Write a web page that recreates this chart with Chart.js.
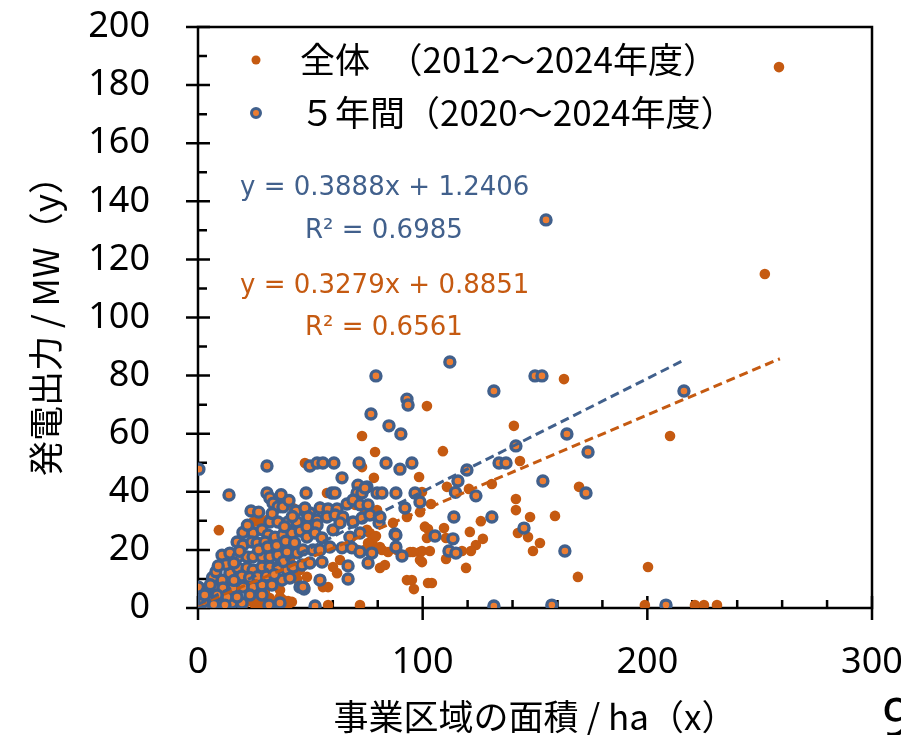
<!DOCTYPE html>
<html lang="ja">
<head>
  <meta charset="UTF-8" />
  <title>事業区域の面積と発電出力</title>
  <script src="https://cdn.jsdelivr.net/npm/chart.js"></script>
  <style>
    body { margin: 0; background: #fff; }
    #wrap { width: 901px; height: 735px; }
  </style>
</head>
<body>
  <div id="wrap"><canvas id="scatterChart" width="901" height="735"></canvas></div>

  <script>
    // 5年間（2020～2024年度）: [面積 ha, 出力 MW]
    const recentPoints = [
      [154.9,133.6],[112.1,84.7],[131.7,74.7],[150.0,79.9],[153.1,79.9],[79.2,79.9],[93.0,71.9],[93.5,69.9],
      [77.0,66.8],[85.0,62.7],[90.3,59.9],[164.2,59.9],[141.5,55.8],[173.6,53.7],[216.3,74.7],
      [0.4,47.8],[30.7,48.9],[49.8,48.9],[53.0,49.9],[55.6,49.9],[60.5,49.9],[71.7,49.9],[83.7,49.9],[95.2,49.9],
      [89.9,47.8],[64.1,44.8],[71.2,42.3],[75.2,41.7],[134.0,49.9],[137.1,49.9],[119.7,47.5],[115.7,43.7],
      [153.5,43.7],[172.7,39.6],[114.6,39.8],[123.7,38.6],[96.6,39.6],[98.8,36.5],[92.1,34.4],[113.9,31.3],
      [130.8,31.3],[145.1,27.5],[105.5,24.8],[113.5,23.8],[111.7,19.6],[114.8,18.9],[163.3,19.6],[90.8,17.9],
      [77.4,18.9],[66.8,14.5],[66.8,10.0],[54.3,9.6],[47.2,6.5],[52.1,0.7],[31.6,1.0],[0.2,7.2],[131.7,0.7],
      [157.5,1.0],[208.3,1.0],[80.6,29.3],[87.7,25.5],
      [13.8,38.9],[30.7,39.6],[32.0,37.9],[33.4,36.1],[35.6,34.8],[37.8,34.8],[48.1,39.6],[23.6,33.4],[43.6,33.4],
      [48.5,32.7],[32.0,29.6],[35.6,29.6],[40.1,29.6],[44.1,29.6],
      [24.5,25.8],[28.5,26.9],[31.2,25.1],[34.3,24.4],[37.8,25.1],[41.8,25.8],
      [17.4,22.7],[20.0,21.7],[24.0,22.7],[26.3,22.4],[29.8,22.7],
      [10.7,18.2],[14.2,18.9],[17.8,17.6],[21.8,17.6],[24.5,17.6],[28.5,17.6],[32.0,17.6],[35.6,18.2],[39.6,19.3],[44.1,18.9],
      [10.7,9.6],[14.2,12.0],[17.8,13.8],[21.8,13.8],[24.5,13.1],[28.5,14.1],[32.0,14.1],[35.6,14.1],[39.6,13.1],[42.3,14.1],[46.3,14.8],
      [4.0,5.5],[7.6,6.9],[11.1,6.9],[15.6,6.9],[20.0,7.2],[24.5,7.2],[28.5,7.9],[32.9,7.9],[37.4,9.6],[40.9,10.3],[45.4,7.2],
      [0.9,1.7],[4.5,1.0],[9.8,1.7],[15.1,1.7],[19.6,1.7],[36.5,1.7],[12.9,3.8],[17.4,3.8],[23.1,4.5],[28.5,4.5],
      [2.0,3.0],[6.0,3.5],[8.5,4.5],[3.0,1.0],[7.0,1.2],[12.0,1.0],[2.5,2.2],
      [6.5,10.5],[8.0,12.5],[12.5,15.0],[16.0,15.5],[19.5,11.0],[23.0,10.5],[26.5,10.8],[30.5,11.0],[34.0,11.5],
      [38.0,16.0],[27.0,20.0],[31.0,21.0],[35.0,21.5],[39.0,23.0],[43.0,22.5],[20.0,26.0],[22.0,28.5],[38.5,28.0],
      [42.0,31.5],[45.5,26.5],[16.0,9.5],[9.0,14.5],[5.5,8.0],[3.0,4.5],[18.5,19.5],[33.0,32.5],[27.0,33.0],
      [37.0,39.0],[40.5,37.0],
      [59.6,39.6],[61.0,39.6],[79.7,39.6],[81.9,39.6],[88.1,39.6],[70.8,39.6],[73.0,39.6],[74.3,41.3],
      [54.3,34.4],[49.8,32.7],[47.6,34.4],[57.9,34.1],[61.9,34.1],[66.3,35.8],[69.0,37.2],[72.1,35.5],[75.7,35.5],
      [49.0,31.3],[53.0,30.3],[57.4,31.3],[61.0,32.0],[64.5,31.3],[69.0,29.6],[73.0,31.0],[76.5,32.0],[81.0,31.3],
      [48.5,27.9],[53.0,28.6],[48.5,24.4],[52.1,25.8],[55.2,24.1],[60.1,26.9],[63.2,29.3],[67.6,24.4],[72.1,25.8],[88.1,25.1],
      [46.7,20.0],[51.2,20.0],[54.3,20.0],[58.7,21.0],[64.1,20.7],[68.5,20.7],[72.1,19.3],[75.7,15.5],[88.1,21.0],
      [49.8,15.5],[55.2,15.8],[46.7,7.2]
    ];

    // 2012～2019年度分（全体から5年間を除いた点）
    const olderPoints = [
      [258.6,186.2],[252.3,115.0],[162.9,78.8],[101.9,69.5],[140.6,62.7],[210.1,59.2],[73.0,59.2],[78.8,53.7],
      [109.0,54.0],[143.3,50.6],[47.6,49.9],[73.0,48.5],[98.4,45.1],[78.3,44.8],[110.8,41.7],[130.8,42.7],
      [169.6,41.7],[120.6,41.0],[57.4,39.6],[99.7,39.9],[141.5,37.5],[141.5,33.7],[103.7,35.8],[98.8,33.0],
      [93.0,31.3],[147.8,31.3],[158.9,31.7],[125.9,29.9],[109.5,27.5],[102.4,27.2],[121.0,26.2],[142.4,25.8],
      [146.9,24.4],[110.4,24.1],[126.8,23.8],[123.7,21.7],[152.2,22.4],[117.5,19.6],[121.5,19.6],[103.2,19.6],
      [99.7,19.6],[149.1,19.6],[110.4,16.9],[99.7,15.8],[119.3,13.8],[200.3,14.1],[169.1,10.7],[93.0,9.6],
      [95.2,9.6],[102.4,8.6],[104.1,8.6],[96.1,6.5],[198.9,1.0],[221.2,1.0],[225.2,1.0],[231.0,1.0],[72.1,1.0],
      [57.9,1.0],[9.3,26.8],
      [86.8,29.3],[101.0,28.0],[101.9,24.1],[76.5,25.8],[79.2,24.8],[77.4,22.4],[78.8,21.0],[81.9,20.0],[84.6,19.3],
      [88.6,20.0],[94.4,19.3],[98.8,19.3],[95.7,19.3],[98.8,16.5],[81.0,13.8],[83.2,14.8],[61.9,12.0],[63.2,16.5],
      [60.1,14.1],[45.4,13.1],[48.5,10.7],[57.9,7.2],[55.6,7.2],
      [24.5,29.6],[26.3,29.9],[28.5,29.6],[30.7,30.3],[45.4,33.7],[42.3,34.4],[54.3,34.8],[69.9,35.5],[74.3,33.7],
      [79.7,33.7],[75.2,26.9],[78.8,24.4],[75.7,22.4],[81.0,21.0],[74.3,20.0],[70.8,20.0],[40.9,16.5],[42.3,13.1],
      [36.5,6.2],[36.5,3.8],[28.5,3.8],[24.5,2.8],[18.7,1.7],[15.6,5.2],[12.9,7.2],[37.8,2.8],[39.6,0.3],[23.1,2.4],
      [25.4,1.0],[27.6,3.1],[29.8,1.7],[32.0,3.4],[34.3,1.4],[38.7,1.0],[40.1,2.4],[20.9,1.7],[26.3,0.7],[30.7,0.7],
      [34.7,0.7],[41.8,2.1],[29.8,5.2],[44.1,10.0],[47.6,7.2]
    ];

    // 近似直線（端点を図から読み取り）
    const trendRecentX = [0, 217];
    const trendRecentY = [1.2, 85.6];
    const trendAllX = [0, 259];
    const trendAllY = [0.9, 85.8];

    const legendLabels = ['全体　（2012～2024年度）', '５年間（2020～2024年度）'];
    const eqRecent = ['y = 0.3888x + 1.2406', 'R² = 0.6985'];
    const eqAll = ['y = 0.3279x + 0.8851', 'R² = 0.6561'];

    const xTitle = '事業区域の面積 / ha（x）';
    const yTitle = '発電出力 / MW（y）';

    const ORANGE = '#C55A11';
    const ORANGE_FILL = '#ED7D31';
    const BLUE = '#41608C';
    const JP = '"Noto Sans CJK JP", "Noto Sans", sans-serif';

    const toXY = arr => arr.map(p => ({ x: p[0], y: p[1] }));
    const lineXY = (xs, ys) => xs.map((v, i) => ({ x: v, y: ys[i] }));

    // 枠線と目盛り（主・副）
    const frameTicks = {
      id: 'frameTicks',
      beforeDatasetsDraw(chart) {
        const { ctx, chartArea: a, scales: { x, y } } = chart;
        ctx.save();
        ctx.strokeStyle = '#000';
        ctx.lineWidth = 2.5;
        ctx.strokeRect(a.left, a.top, a.right - a.left, a.bottom - a.top);
        ctx.beginPath();
        for (let v = 0; v <= 200; v += 10) {
          const py = y.getPixelForValue(v);
          if (v % 20 === 0) { ctx.moveTo(a.left - 12, py); ctx.lineTo(a.left + 12, py); }
          else { ctx.moveTo(a.left, py); ctx.lineTo(a.left + 9, py); }
        }
        for (let v = 0; v <= 300; v += 20) {
          const px = x.getPixelForValue(v);
          if (v % 100 === 0) { ctx.moveTo(px, a.bottom - 12); ctx.lineTo(px, a.bottom + 12); }
          else { ctx.moveTo(px, a.bottom - 8); ctx.lineTo(px, a.bottom); }
        }
        ctx.stroke();
        ctx.restore();
      },
      afterDraw(chart) {
        const { ctx } = chart;
        ctx.save();
        // 凡例
        ctx.beginPath();
        ctx.fillStyle = ORANGE;
        ctx.arc(256, 60, 4.5, 0, Math.PI * 2);
        ctx.fill();
        ctx.beginPath();
        ctx.arc(256, 113, 4.5, 0, Math.PI * 2);
        ctx.fillStyle = ORANGE_FILL;
        ctx.fill();
        ctx.lineWidth = 3;
        ctx.strokeStyle = BLUE;
        ctx.stroke();

        ctx.fillStyle = '#000';
        ctx.textBaseline = 'middle';
        ctx.font = '35px ' + JP;
        ctx.fillText(legendLabels[0], 300, 60);
        ctx.fillText(legendLabels[1], 300, 113);

        // 近似式
        ctx.font = '26px "DejaVu Sans", sans-serif';
        ctx.fillStyle = BLUE;
        ctx.fillText(eqRecent[0], 240, 188);
        ctx.fillText(eqRecent[1], 305, 231);
        ctx.fillStyle = ORANGE;
        ctx.fillText(eqAll[0], 240, 286);
        ctx.fillText(eqAll[1], 305, 328);

        // ページ番号
        ctx.fillStyle = '#000';
        ctx.textBaseline = 'alphabetic';
        ctx.font = '52px "Noto Sans", sans-serif';
        ctx.fillText('9', 882, 736);
        ctx.restore();
      }
    };

    const ctx = document.getElementById('scatterChart').getContext('2d');
    new Chart(ctx, {
      type: 'scatter',
      data: {
        datasets: [
          {
            type: 'line',
            label: '近似（5年間）',
            data: lineXY(trendRecentX, trendRecentY),
            borderColor: BLUE,
            borderWidth: 3,
            borderDash: [9, 5],
            pointRadius: 0,
            fill: false,
            order: -2
          },
          {
            type: 'line',
            label: '近似（全体）',
            data: lineXY(trendAllX, trendAllY),
            borderColor: ORANGE,
            borderWidth: 3,
            borderDash: [9, 5],
            pointRadius: 0,
            fill: false,
            order: -1
          },
          {
            label: legendLabels[1],
            data: toXY(recentPoints),
            pointRadius: 5,
            pointBackgroundColor: ORANGE_FILL,
            pointBorderColor: BLUE,
            pointBorderWidth: 3.4,
            order: 0
          },
          {
            label: legendLabels[0],
            data: toXY(olderPoints.concat(recentPoints)),
            pointRadius: 5.3,
            pointBackgroundColor: ORANGE,
            pointBorderWidth: 0,
            order: 1
          }
        ]
      },
      options: {
        responsive: false,
        animation: false,
        layout: { padding: { top: 27, right: 29, left: 0, bottom: 0 } },
        plugins: {
          legend: { display: false },
          tooltip: { enabled: false }
        },
        scales: {
          x: {
            type: 'linear',
            min: 0,
            max: 300,
            grid: { display: false, drawTicks: false, tickLength: 0 },
            border: { display: false },
            ticks: {
              stepSize: 100,
              autoSkip: false,
              maxRotation: 0,
              padding: 33,
              color: '#000',
              font: { family: '"Noto Sans", sans-serif', size: 36 }
            },
            title: {
              display: true,
              text: xTitle,
              color: '#000',
              font: { family: JP, size: 35, lineHeight: 1 },
              padding: { top: 0, bottom: 1 }
            },
            afterFit(s) { s.height = 127; s.paddingLeft = 0; s.paddingRight = 0; }
          },
          y: {
            min: 0,
            max: 200,
            grid: { display: false, drawTicks: false, tickLength: 0 },
            border: { display: false },
            ticks: {
              stepSize: 20,
              autoSkip: false,
              padding: 48,
              color: '#000',
              font: { family: '"Noto Sans", sans-serif', size: 36 }
            },
            title: {
              display: true,
              text: yTitle,
              color: '#000',
              font: { family: JP, size: 35, lineHeight: 1 },
              padding: { top: 28, bottom: 0 }
            },
            afterFit(s) { s.width = 198; s.paddingTop = 0; s.paddingBottom = 0; }
          }
        }
      },
      plugins: [frameTicks]
    });
  </script>
</body>
</html>
